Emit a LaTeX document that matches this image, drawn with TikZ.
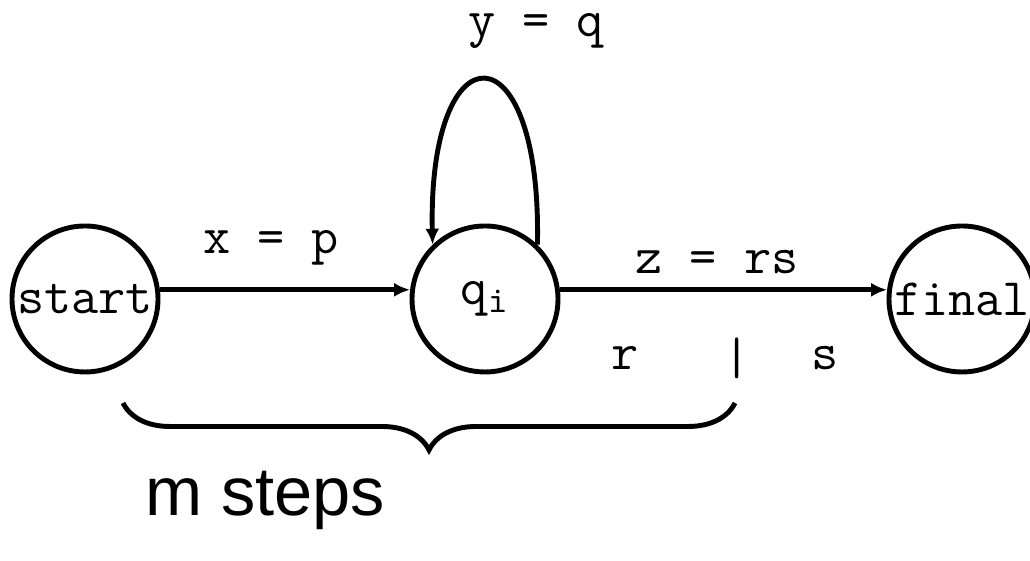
\documentclass[tikz,border=0pt]{standalone}
\usepackage{fontspec}
\newfontfamily\stepsfont{Liberation Sans}
\usetikzlibrary{arrows.meta,decorations.pathreplacing}
\begin{document}
\begin{tikzpicture}[every node/.style={font=\ttfamily\fontsize{15}{18}\selectfont, inner sep=0pt},
  state/.style={circle, draw, line width=1.4pt, minimum size=1.46cm},
  edge/.style={line width=1.4pt, -{Latex[length=1.6mm,width=1.4mm]}}]
\useasboundingbox (0,0) rectangle (10.30,5.61);
\node[state] (start) at (0.85,2.62) {start};
\node[state] (q) at (4.85,2.62) {q\textsubscript{i}};
\node[state] (final) at (9.62,2.62) {final};
\node (xp) at (2.71,3.13) {x = p};
\node (zrs) at (7.17,2.99) {z = rs};
\node (yq) at (5.36,5.30) {y = q};
\node (r) at (6.25,2.03) {r};
\node (bar) at (7.37,2.03) {|};
\node (s) at (8.25,2.03) {s};
\coordinate (bl) at (1.23,1.58);
\coordinate (br) at (7.35,1.58);
\node (steps) at (2.65,0.61) {\stepsfont\fontsize{19.5}{23}\selectfont m steps};
\draw[edge] (start.7) -- (q.173);
\draw[edge] (q.7) -- (final.173);
\draw[edge] (q.46) .. controls (5.42,5.36) and (4.28,5.36) .. (q.134);
\draw[line width=1.4pt, decorate, decoration={brace, mirror, amplitude=0.47cm}] (bl) -- (br);
\end{tikzpicture}
\end{document}
